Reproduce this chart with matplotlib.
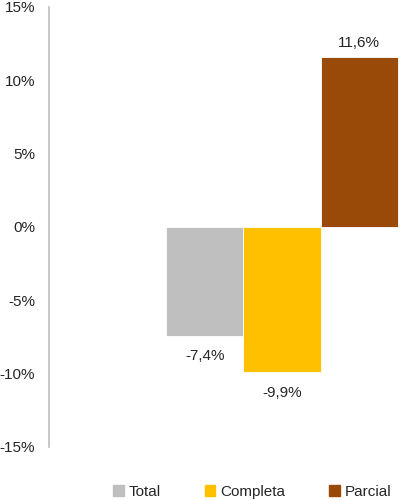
import matplotlib.pyplot as plt
from matplotlib.ticker import FuncFormatter

plt.rcParams['font.family'] = ['Liberation Sans', 'DejaVu Sans']

# Data
series = ['Total', 'Completa', 'Parcial']
values = [-7.4, -9.9, 11.6]
colors = ['#BFBFBF', '#FFC000', '#9A4A08']
yticks = [-15, -10, -5, 0, 5, 10, 15]

fig = plt.figure(figsize=(4, 5), dpi=100)
ax = fig.add_axes([0.1225, 0.106, 0.8775, 0.88])

pos = list(range(len(series)))
bars = ax.bar(pos, values, width=1.0, color=colors, edgecolor='white',
              linewidth=0.6, label=series)

# data labels
for b, v in zip(bars, values):
    txt = ('%.1f%%' % v).replace('.', ',')
    if v >= 0:
        ax.annotate(txt, (b.get_x() + b.get_width() / 2, v), xytext=(0, 5),
                    textcoords='offset points', ha='center', va='bottom',
                    fontsize=11, color='#262626')
    else:
        ax.annotate(txt, (b.get_x() + b.get_width() / 2, v), xytext=(0, -10),
                    textcoords='offset points', ha='center', va='top',
                    fontsize=11, color='#262626')

ax.set_ylim(-15, 15)
ax.set_xlim(-2.013, 2.526)
ax.set_yticks(yticks)
ax.yaxis.set_major_formatter(FuncFormatter(lambda y, p: '%d%%' % y))
ax.tick_params(axis='y', length=0, pad=10, labelsize=11, labelcolor='#262626')
ax.set_xticks([])

for s in ['top', 'right', 'bottom']:
    ax.spines[s].set_visible(False)
ax.spines['left'].set_color('#BFBFBF')
ax.spines['left'].set_linewidth(1.2)

handles = [plt.Rectangle((0, 0), 1, 1, color=c) for c in colors]
fig.legend(handles, series, loc='lower center', bbox_to_anchor=(0.63, -0.025),
           ncol=3, frameon=False, fontsize=11, handlelength=0.7,
           handleheight=0.7, handletextpad=0.3, columnspacing=2.9,
           labelcolor='#262626')

fig.savefig('out.png', dpi=100)
